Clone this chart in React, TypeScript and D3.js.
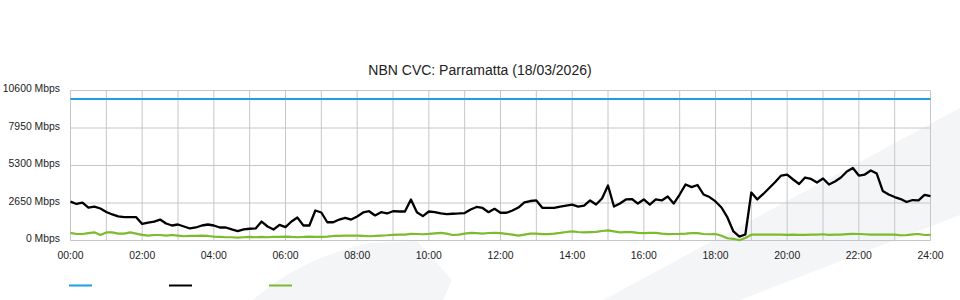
import React from "react";
import * as d3 from "d3";

const TITLE = "NBN CVC: Parramatta (18/03/2026)";
const STEP_MIN = 10;
const capacity = 10000;
const yTicks = [0, 2650, 5300, 7950, 10600];
const xTickHours = [0, 2, 4, 6, 8, 10, 12, 14, 16, 18, 20, 22, 24];

const downlink = [
  2750, 2580, 2680, 2330, 2400, 2260, 2010, 1840, 1700, 1650, 1650, 1650,
  1170, 1270, 1340, 1480, 1200, 1060, 1130, 990, 850, 920, 1060, 1130,
  1060, 920, 920, 780, 670, 780, 830, 850, 1340, 990, 780, 1100,
  940, 1340, 1620, 1060, 1060, 2120, 1980, 1290, 1290, 1480, 1600, 1480,
  1700, 1980, 2070, 1770, 2000, 1910, 2070, 2050, 2050, 2900, 2000, 1720,
  2050, 2010, 1910, 1870, 1890, 1910, 1940, 2190, 2370, 2300, 2000, 2240,
  1960, 1960, 2120, 2330, 2690, 2790, 2830, 2310, 2310, 2310, 2400, 2470,
  2540, 2400, 2470, 2830, 2540, 2970, 3890, 2400, 2610, 2900, 2930, 2610,
  2900, 2540, 2900, 2830, 3110, 2610, 3250, 3960, 3770, 3920, 3250, 3070,
  2760, 2330, 1630, 640, 280, 425, 3390, 2900, 3290, 3710, 4130, 4590,
  4660, 4310, 3990, 4450, 4350, 4100, 4380, 3960, 4170, 4450, 4880, 5120,
  4590, 4660, 4950, 4730, 3500, 3250, 3070, 2930, 2720, 2860, 2830, 3220,
  3140,
];

const uplink = [
  540, 460, 460, 520, 580, 390, 570, 570, 490, 490, 570, 490,
  400, 350, 390, 390, 350, 390, 350, 300, 320, 330, 350, 320,
  280, 260, 230, 230, 210, 230, 250, 230, 250, 230, 260, 260,
  280, 250, 230, 250, 280, 250, 250, 280, 320, 330, 350, 350,
  350, 330, 300, 320, 350, 370, 400, 410, 420, 470, 460, 440,
  470, 510, 540, 490, 390, 420, 490, 540, 520, 490, 530, 540,
  520, 470, 420, 340, 420, 490, 490, 450, 450, 490, 540, 600,
  650, 600, 570, 590, 610, 670, 720, 640, 570, 590, 590, 540,
  520, 540, 540, 490, 450, 460, 470, 490, 520, 520, 460, 440,
  460, 340, 160, 120, 20, 180, 410, 420, 420, 420, 420, 420,
  400, 420, 400, 400, 420, 420, 440, 400, 420, 420, 450, 470,
  460, 440, 420, 420, 420, 420, 420, 370, 380, 430, 460, 390,
  400,
];

const COLORS = { capacity: "#1ba1e2", down: "#000000", up: "#7cbb2c" };
const FONT = "'Liberation Sans', Arial, Helvetica, sans-serif";

export default function App() {
  const width = 960;
  const height = 300;
  const x = d3.scaleLinear().domain([0, 1440]).range([70.5, 930.5]);
  const y = d3.scaleLinear().domain([0, 10600]).range([240.5, 90.5]);

  const line = d3
    .line<number>()
    .x((_, i) => x(i * STEP_MIN))
    .y((d) => y(d));
  const capLine = d3
    .line<number>()
    .x((d) => x(d))
    .y(() => y(capacity));

  const hourGrid = d3.range(0, 25);
  const fmt = (h: number) => `${String(h).padStart(2, "0")}:00`;

  const polyA = "M253,300 Q300,258 370,243 L417,241 L452,280 L443,300 Z";
  const polyB = "M603,300 L960,108 L960,215 L740,300 Z";

  return (
    <svg
      width={width}
      height={height}
      style={{ position: "absolute", left: 0, top: 0, display: "block" }}
      fontFamily={FONT}
    >
      <rect x={0} y={0} width={width} height={height} fill="#ffffff" />
      <path d={polyA} fill="#f4f5f7" />
      <path d={polyB} fill="#f4f5f7" />

      <text x={480} y={75} textAnchor="middle" fontSize={14} fill="#222">
        {TITLE}
      </text>

      {/* grid */}
      {hourGrid.map((h) => (
        <line
          key={"v" + h}
          x1={x(h * 60)}
          x2={x(h * 60)}
          y1={y(10600)}
          y2={y(0)}
          stroke="#c6c6c6"
          strokeWidth={1}
        />
      ))}
      {yTicks.map((t) => (
        <line
          key={"h" + t}
          x1={x(0)}
          x2={x(1440)}
          y1={y(t)}
          y2={y(t)}
          stroke="#c6c6c6"
          strokeWidth={1}
        />
      ))}

      {/* y labels */}
      {yTicks.map((t) => (
        <text
          key={"yl" + t}
          x={60}
          y={y(t) + 1.5}
          textAnchor="end"
          fontSize={10.4}
          fill="#222"
        >
          {`${t} Mbps`}
        </text>
      ))}

      {/* x labels */}
      {xTickHours.map((h) => (
        <text
          key={"xl" + h}
          x={x(h * 60)}
          y={259}
          textAnchor="middle"
          fontSize={10.4}
          fill="#222"
        >
          {fmt(h)}
        </text>
      ))}

      {/* series */}
      <path
        d={capLine([0, 1440]) || ""}
        fill="none"
        stroke={COLORS.capacity}
        strokeWidth={2}
      />
      <path
        d={line(uplink) || ""}
        fill="none"
        stroke={COLORS.up}
        strokeWidth={2.2}
        strokeLinejoin="round"
      />
      <path
        d={line(downlink) || ""}
        fill="none"
        stroke={COLORS.down}
        strokeWidth={2.3}
        strokeLinejoin="round"
      />

      {/* legend */}
      {[COLORS.capacity, COLORS.down, COLORS.up].map((c, i) => (
        <line
          key={"lg" + i}
          x1={69 + i * 100}
          x2={92 + i * 100}
          y1={285.5}
          y2={285.5}
          stroke={c}
          strokeWidth={2}
        />
      ))}
    </svg>
  );
}
